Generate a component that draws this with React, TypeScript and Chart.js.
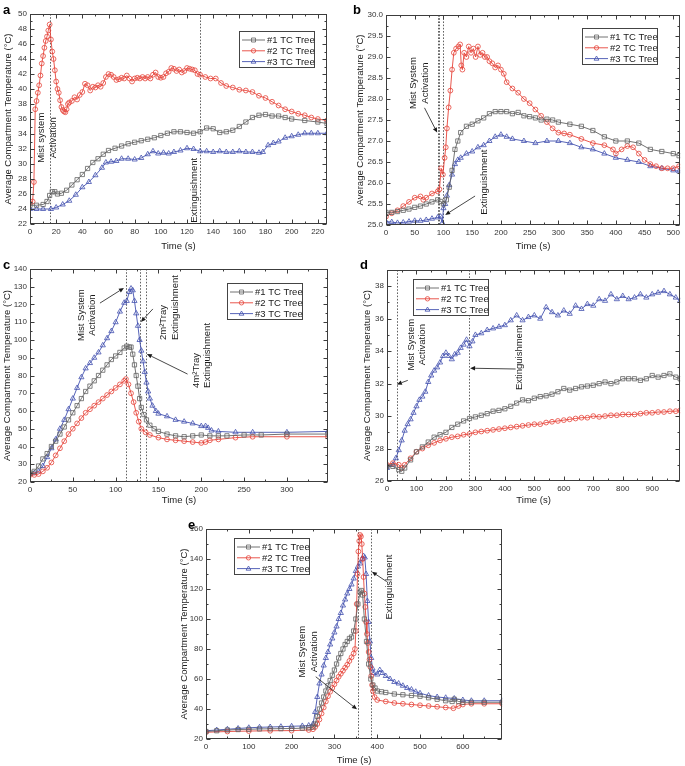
import React, { useEffect, useRef } from "react";
import { Chart, registerables } from "chart.js";

Chart.register(...registerables);

const FONT = "'Liberation Sans', Arial, Helvetica, sans-serif";
const SERIES_NAMES = ["#1 TC Tree", "#2 TC Tree", "#3 TC Tree"];
const SERIES_COLORS = ["rgb(98,98,98)", "rgb(230,68,58)", "rgb(68,82,176)"];
const SERIES_MARKERS = ["rect", "circle", "triangle"];
const SERIES_RADII = [3, 2.4, 3];
const Y_TITLE = "Average Compartment Temperature (°C)";
const X_TITLE = "Time (s)";

// ---------- Panel a ----------
const A1_T = [0,5,10,13,15,17,19,21,24,28,32,36,40,44,48,52,56,60,65,70,75,80,85,90,95,100,105,110,115,120,125,130,135,140,145,150,155,160,165,170,175,180,185,190,195,200,210,220,227];
const A1_V = [24.5,24.5,24.6,25.0,25.8,26.3,26.3,26.0,26.1,26.5,27.2,27.9,28.6,29.4,30.2,30.7,31.3,31.8,32.1,32.4,32.7,32.9,33.1,33.3,33.5,33.8,34.1,34.3,34.3,34.2,34.1,34.3,34.8,34.7,34.2,34.3,34.5,35.0,35.6,36.2,36.5,36.6,36.4,36.4,36.2,36.0,35.8,35.6,35.4];
const A2_T = [0,2,3,4,5,6,7,8,9,10,11,12,13,14,15,16,17,18,19,20,21,22,23,24,25,26,27,28,29,30,32,34,36,38,40,42,44,46,48,50,52,54,56,58,60,62,64,66,68,70,72,74,76,78,80,82,84,86,88,90,92,94,96,98,100,102,104,106,108,110,112,114,116,118,120,122,124,126,128,130,134,138,142,146,150,155,160,165,170,175,180,185,190,195,200,205,210,215,220,227];
const A2_V = [24.8,25.0,27.6,37.3,38.4,39.5,40.5,41.8,43.4,44.4,45.5,46.4,47.0,47.8,48.6,46.6,45.0,44.0,42.5,41.0,40.0,39.5,38.5,37.6,37.2,37.0,36.9,37.3,38.0,38.2,38.4,38.9,38.6,39.2,39.6,40.7,40.5,39.8,40.3,40.2,40.5,40.3,40.8,41.6,42.0,41.9,41.6,41.2,41.3,41.5,41.4,41.8,41.4,41.0,41.4,41.5,41.4,41.6,41.4,41.6,41.4,41.9,42.2,41.6,41.5,41.6,42.1,42.3,42.8,42.7,42.4,42.6,42.2,42.4,42.8,42.7,42.6,42.5,42.0,41.9,41.6,41.4,41.4,40.8,40.4,40.2,39.9,39.8,39.6,39.1,38.8,38.3,37.8,37.3,37.0,36.7,36.5,36.2,36.0,35.8];
const A3_T = [0,5,10,16,20,25,30,35,40,45,50,55,58,62,66,70,75,80,85,90,94,98,102,106,110,115,120,125,130,135,140,145,150,155,160,165,170,175,178,182,186,190,195,200,205,210,215,220,227];
const A3_V = [24.0,24.0,24.0,24.0,24.2,24.6,25.1,25.9,26.9,27.6,28.5,29.5,30.2,30.3,30.4,30.7,30.7,30.6,30.8,31.3,31.7,31.4,31.5,31.4,31.6,31.8,32.1,32.0,31.7,31.7,31.6,31.7,31.6,31.6,31.7,31.6,31.6,31.5,31.6,32.5,32.8,33.0,33.5,33.7,33.9,34.1,34.1,34.1,34.1];

// ---------- Panel b ----------
const B1_T = [0,10,20,30,40,50,60,70,80,90,95,100,105,110,115,120,125,130,140,150,160,170,180,190,200,210,220,230,240,250,260,270,280,290,300,320,340,360,380,400,420,440,460,480,500,510];
const B1_V = [25.3,25.3,25.32,25.35,25.38,25.42,25.45,25.5,25.55,25.6,25.56,25.5,25.6,25.9,26.3,26.8,27.0,27.2,27.35,27.4,27.48,27.55,27.65,27.7,27.7,27.7,27.65,27.68,27.6,27.58,27.55,27.5,27.52,27.5,27.45,27.4,27.35,27.25,27.1,27.0,27.0,26.95,26.8,26.75,26.7,26.65];
const B2_T = [0,10,20,30,40,50,60,65,70,80,90,93,96,99,102,104,106,109,112,115,118,122,126,129,131,133,136,140,144,148,152,156,160,164,168,172,176,180,185,190,195,200,205,210,220,230,240,250,260,270,280,290,300,310,320,340,360,380,395,400,410,420,430,440,450,460,470,480,490,500,510];
const B2_V = [25.2,25.28,25.35,25.45,25.55,25.65,25.68,25.6,25.65,25.75,25.8,25.85,26.35,26.2,26.6,26.85,27.3,27.8,28.2,28.7,29.1,29.2,29.25,29.3,28.8,28.7,29.1,29.0,29.25,29.1,29.2,29.0,29.25,29.05,29.1,29.0,29.0,28.9,28.85,28.75,28.8,28.7,28.6,28.4,28.25,28.15,28.0,27.9,27.75,27.6,27.45,27.3,27.2,27.18,27.15,27.05,26.95,26.9,26.8,26.7,26.8,26.88,26.85,26.7,26.55,26.45,26.4,26.35,26.35,26.35,26.4];
const B3_T = [0,10,20,30,40,50,60,70,80,90,95,98,100,103,106,110,115,120,125,130,140,150,160,170,180,190,200,210,220,240,260,280,300,320,340,360,380,400,420,440,460,480,500,510];
const B3_V = [25.08,25.07,25.05,25.06,25.08,25.1,25.1,25.12,25.15,25.18,25.2,25.05,25.4,25.5,25.7,25.95,26.2,26.45,26.55,26.6,26.7,26.75,26.85,26.9,27.0,27.1,27.15,27.1,27.05,27.0,26.95,27.0,27.0,26.95,26.85,26.8,26.7,26.6,26.55,26.5,26.4,26.35,26.3,26.28];

// ---------- Panel c ----------
const C1_T = [0,5,10,15,20,25,30,35,40,45,50,55,60,65,70,75,80,85,90,95,100,105,110,113,116,118,120,122,124,126,128,130,133,136,140,145,150,160,170,180,190,200,210,220,230,250,270,300,348];
const C1_V = [25,26,29,33,36,40,43,47,51,55,59,63,67,71,74,77,80,83,86,89,91,93,95.5,96.5,96,96,92,86,80,74,67,62,58,55,52,50,48.5,47,46,45.5,46,46.5,46,46,46,46.5,46.5,47,47];
const C2_T = [0,5,10,15,20,25,30,35,40,45,50,55,60,65,70,75,80,85,90,95,100,105,110,112,115,118,121,124,127,130,135,140,150,160,170,180,190,200,205,210,220,240,260,300,348];
const C2_V = [24,24,24.5,26,28,31,35,39,43,47,50,53,56,59,61,63,65,67,69,71,73,75,77,78,75,70,65,59,54,50,48,46.5,45,44,43.5,43,42.5,42,42.5,43.5,44,45,45.5,45.5,45.5];
const C3_T = [0,5,10,15,20,25,30,35,40,45,50,55,60,65,70,75,80,85,90,95,100,105,110,113,116,118,120,122,124,126,128,130,132,134,136,138,140,143,147,150,160,170,180,190,200,205,208,212,220,240,260,300,348];
const C3_V = [24.5,25,26,29,34,39,44,50,55,61,67,73,79,84,87,90,93,97,101,105,110,116,121,122,127,129,128,122,115,108,100,94,88,82,76,71,67,63,60,58.5,57,55,54,53,51.5,51.5,50.5,49,48.5,48,48,48,48.5];

// ---------- Panel d ----------
const D1_T = [0,20,40,50,60,80,100,120,140,160,180,200,220,240,260,280,300,320,340,360,380,400,420,440,460,480,500,520,540,560,580,600,620,640,660,680,700,720,740,760,780,800,820,840,860,880,900,920,940,960,980,995];
const D1_V = [26.9,26.9,26.7,26.6,26.8,27.3,27.8,28.1,28.4,28.7,28.85,29.0,29.3,29.5,29.7,29.85,29.95,30.05,30.15,30.3,30.35,30.45,30.6,30.8,31.0,30.95,31.1,31.2,31.25,31.35,31.5,31.7,31.6,31.7,31.8,31.85,31.9,32.0,32.1,32.0,32.1,32.3,32.3,32.3,32.2,32.3,32.5,32.4,32.5,32.6,32.4,32.3];
const D2_T = [0,20,40,50,60,80,100,120,140,160,180,200,220,240,260,280,300,320,340,360,380,400,420,440,460,480,500,520,540,560,580,600,620,640,660,680,700,720,740,760,780,800,820,840,860,880,900,920,940,960,980,995];
const D2_V = [27.0,27.1,27.0,26.8,27.0,27.4,27.8,28.0,28.2,28.35,28.5,28.6,28.7,28.75,28.85,28.9,29.0,29.05,29.1,29.15,29.2,29.25,29.3,29.35,29.4,29.45,29.5,29.5,29.6,29.65,29.7,29.75,29.8,29.85,29.9,29.9,30.0,29.95,30.0,30.05,30.05,30.1,30.1,30.1,30.15,30.2,30.2,30.25,30.25,30.3,30.3,30.35];
const D3_T = [0,20,30,40,50,60,70,80,90,100,110,120,130,140,150,160,170,180,190,200,210,220,230,240,250,260,270,280,290,300,320,340,360,380,400,420,440,460,480,500,520,540,560,580,600,620,640,660,680,700,720,740,760,780,800,820,840,860,880,900,920,940,960,980,995];
const D3_V = [26.8,27.0,27.4,27.9,28.5,29.1,29.5,29.8,30.2,30.6,31.0,31.2,31.5,32.1,32.5,32.8,33.0,33.3,33.7,33.9,33.7,33.5,33.8,33.9,34.2,34.4,34.7,34.3,34.6,35.0,35.1,35.3,35.4,35.5,35.6,35.9,36.2,35.9,36.1,36.2,36.0,36.7,36.4,36.2,36.5,36.3,36.8,36.6,36.9,36.8,37.2,37.1,37.5,37.2,37.4,37.2,37.3,37.5,37.3,37.5,37.6,37.7,37.5,37.3,37.1];

// ---------- Panel e ----------
const E1_T = [0,25,50,75,100,125,150,175,200,225,240,250,255,260,265,270,275,280,285,290,295,300,305,310,315,320,325,330,335,340,345,350,355,360,363,366,370,375,380,385,390,395,400,410,420,440,460,480,500,520,540,560,575,580,590,600,620,650,692];
const E1_V = [25,25.5,26,26.3,26.5,26.7,26.8,26.9,27,27.2,27.5,28,30,35,40,44,48,52,55.5,59,62.5,66,70,74,77,80,83,85,87,88,92,100,110,118,119,116,100,85,70,60,56,54,52,51.5,51,50,49.5,49,48.5,47.5,46.5,45.5,45,46.5,45,44.5,44.5,44.5,44.5];
const E2_T = [0,50,100,150,200,240,250,255,260,265,270,275,280,285,290,295,300,305,310,315,320,325,330,335,340,345,348,350,352,354,356,358,360,362,364,366,368,370,372,374,376,378,380,382,384,386,388,390,394,400,420,440,460,480,500,520,540,560,578,590,600,620,650,692];
const E2_V = [24.5,25,25.3,25.5,25.6,26,26.5,28,30,33,37,41,45,48.5,51.5,54,56.5,59,61.5,63.5,65.5,67.5,69.5,72,74.5,77,80,92,110,130,145,152,156,155,150,140,128,117,108,98,90,84,78,73,68,62,56,52,48,46,45,44,43.5,43,42.5,42,41.5,41,40.5,42,43,43.5,43.5,43.5];
const E3_T = [0,25,50,75,100,125,150,175,200,225,240,250,255,260,265,270,275,280,285,290,295,300,305,310,315,320,325,330,335,340,345,350,355,360,365,368,371,374,377,380,383,386,389,392,400,406,412,420,430,440,450,460,470,480,490,500,520,540,560,580,600,620,650,692];
const E3_V = [25.5,26,26.5,27,27.5,27.8,28,28.2,28.5,28.7,29,30,38,48,57,63,69,74,78,83,87,91,95,100,104,109,113,117,120,123,127,132,135,137,140,142,141,130,112,98,85,74,67,64,63,66,64,62,60,58,57,55.5,54,53,51.5,50.5,49,48,47.5,47,46,45.5,45.5,45.5];

type Series = { t: number[]; v: number[] };
type Note = { x: number; y: number; lines: string[]; align: "center" | "start" };
type Arrow = { x1: number; y1: number; x2: number; y2: number };
type Panel = {
  letter: string;
  letterPos: { left: number; top: number };
  canvas: { left: number; top: number; width: number; height: number };
  padTop: number;
  padRight: number;
  yAxisW: number;
  xAxisH: number;
  yTitlePad: number;
  xTitlePad: number;
  xMin: number; xMax: number; xStep: number; xMinor: number;
  yMin: number; yMax: number; yStep: number; yMinor: number; yDecimals: number;
  series: Series[];
  vlines: number[];
  notes: Note[];
  arrows: Arrow[];
  legend: { dx: number; dy: number };
};

const PANELS: Panel[] = [
  {
    letter: "a", letterPos: { left: 3, top: 3 },
    canvas: { left: 0, top: 0, width: 335, height: 252 },
    padTop: 14, padRight: 8, yAxisW: 30, xAxisH: 28, yTitlePad: 2.3, xTitlePad: 0.3,
    xMin: 0, xMax: 227, xStep: 20, xMinor: 10,
    yMin: 22, yMax: 50, yStep: 2, yMinor: 1, yDecimals: 0,
    series: [{ t: A1_T, v: A1_V }, { t: A2_T, v: A2_V }, { t: A3_T, v: A3_V }],
    vlines: [15, 130],
    notes: [
      { x: 13.4, y: 33.5, lines: ["Mist system", "Activation"], align: "center" },
      { x: 126, y: 26.5, lines: ["Extinguishment"], align: "center" },
    ],
    arrows: [],
    legend: { dx: 209, dy: 17 },
  },
  {
    letter: "b", letterPos: { left: 353, top: 3 },
    canvas: { left: 350, top: 0, width: 335, height: 252 },
    padTop: 15, padRight: 1, yAxisW: 36, xAxisH: 27, yTitlePad: 4.3, xTitlePad: 0,
    xMin: 0, xMax: 512, xStep: 50, xMinor: 25,
    yMin: 25, yMax: 30, yStep: 0.5, yMinor: 0.25, yDecimals: 1,
    series: [{ t: B1_T, v: B1_V }, { t: B2_T, v: B2_V }, { t: B3_T, v: B3_V }],
    vlines: [90.5, 93, 100],
    notes: [
      { x: 58, y: 28.38, lines: ["Mist System", "Activation"], align: "center" },
      { x: 172, y: 26.02, lines: ["Extinguishment"], align: "center" },
    ],
    arrows: [
      { x1: 67, y1: 27.79, x2: 89, y2: 27.2 },
      { x1: 155, y1: 25.69, x2: 103, y2: 25.24 },
    ],
    legend: { dx: 196, dy: 13 },
  },
  {
    letter: "c", letterPos: { left: 3, top: 258 },
    canvas: { left: 0, top: 252, width: 335, height: 254 },
    padTop: 17, padRight: 7, yAxisW: 30, xAxisH: 24, yTitlePad: 1.8, xTitlePad: 0.3,
    xMin: 0, xMax: 348, xStep: 50, xMinor: 25,
    yMin: 20, yMax: 140, yStep: 10, yMinor: 5, yDecimals: 0,
    series: [{ t: C1_T, v: C1_V }, { t: C2_T, v: C2_V }, { t: C3_T, v: C3_V }],
    vlines: [112, 129, 135],
    notes: [
      { x: 66.5, y: 114, lines: ["Mist System", "Activation"], align: "center" },
      { x: 163, y: 100, lines: ["2m²Tray", "Extinguishment"], align: "start" },
      { x: 201, y: 73, lines: ["4m²Tray", "Extinguishment"], align: "start" },
    ],
    arrows: [
      { x1: 81.7, y1: 120.8, x2: 109.7, y2: 129.3 },
      { x1: 143.5, y1: 117.5, x2: 129.5, y2: 110.2 },
      { x1: 184, y1: 80.8, x2: 136.5, y2: 92.1 },
    ],
    legend: { dx: 196.7, dy: 14.3 },
  },
  {
    letter: "d", letterPos: { left: 360, top: 258 },
    canvas: { left: 357, top: 252, width: 328, height: 254 },
    padTop: 18, padRight: 0, yAxisW: 30, xAxisH: 25, yTitlePad: 4.3, xTitlePad: 0.3,
    xMin: 0, xMax: 995, xStep: 100, xMinor: 50,
    yMin: 26, yMax: 39, yStep: 2, yMinor: 1, yDecimals: 0,
    series: [{ t: D1_T, v: D1_V }, { t: D2_T, v: D2_V }, { t: D3_T, v: D3_V }],
    vlines: [33.5, 279.5],
    notes: [
      { x: 102, y: 34.4, lines: ["Mist System", "Activation"], align: "center" },
      { x: 450, y: 33.6, lines: ["Extinguishment"], align: "center" },
    ],
    arrows: [
      { x1: 70.5, y1: 32.2, x2: 33.6, y2: 31.95 },
      { x1: 436.5, y1: 32.9, x2: 282, y2: 32.95 },
    ],
    legend: { dx: 25.7, dy: 9.3 },
  },
  {
    letter: "e", letterPos: { left: 188, top: 518 },
    canvas: { left: 174, top: 510, width: 333, height: 256 },
    padTop: 19, padRight: 2, yAxisW: 32, xAxisH: 27, yTitlePad: 4.3, xTitlePad: 0.3,
    xMin: 0, xMax: 692, xStep: 100, xMinor: 50,
    yMin: 20, yMax: 160, yStep: 20, yMinor: 10, yDecimals: 0,
    series: [{ t: E1_T, v: E1_V }, { t: E2_T, v: E2_V }, { t: E3_T, v: E3_V }],
    vlines: [354, 385],
    notes: [
      { x: 238.6, y: 78.2, lines: ["Mist System", "Activation"], align: "center" },
      { x: 428.5, y: 121.3, lines: ["Extinguishment"], align: "center" },
    ],
    arrows: [
      { x1: 256.4, y1: 61.5, x2: 352.8, y2: 39.8 },
      { x1: 422.3, y1: 124.9, x2: 387.6, y2: 131.5 },
    ],
    legend: { dx: 28.3, dy: 9.3 },
  },
];

function stepValues(min: number, max: number, step: number): number[] {
  const out: number[] = [];
  const n = Math.floor((max - min) / step + 1e-9);
  for (let i = 0; i <= n; i++) out.push(Math.round((min + i * step) * 1000) / 1000);
  return out;
}

function drawMarker(ctx: CanvasRenderingContext2D, style: string, x: number, y: number, color: string) {
  ctx.save();
  ctx.strokeStyle = color;
  ctx.lineWidth = 0.8;
  ctx.beginPath();
  if (style === "rect") {
    ctx.rect(x - 2, y - 2, 4, 4);
  } else if (style === "circle") {
    ctx.arc(x, y, 2.2, 0, Math.PI * 2);
  } else {
    ctx.moveTo(x, y - 2.6);
    ctx.lineTo(x + 2.4, y + 1.6);
    ctx.lineTo(x - 2.4, y + 1.6);
    ctx.closePath();
  }
  ctx.stroke();
  ctx.restore();
}

function makePlugin(p: Panel) {
  return {
    id: "deco_" + p.letter,
    beforeDatasetsDraw(chart: any) {
      const { ctx, chartArea: ca } = chart;
      const xs = chart.scales.x;
      ctx.save();
      ctx.strokeStyle = "#505050";
      ctx.lineWidth = 0.9;
      ctx.setLineDash([1.6, 1.6]);
      for (const v of p.vlines) {
        const px = Math.round(xs.getPixelForValue(v)) + 0.5;
        ctx.beginPath();
        ctx.moveTo(px, ca.top);
        ctx.lineTo(px, ca.bottom);
        ctx.stroke();
      }
      ctx.restore();
    },
    afterDraw(chart: any) {
      const { ctx, chartArea: ca } = chart;
      const xs = chart.scales.x;
      const ys = chart.scales.y;
      const l = Math.round(ca.left) + 0.5;
      const t = Math.round(ca.top) + 0.5;
      const r = Math.round(ca.right) - 0.5;
      const b = Math.round(ca.bottom) - 0.5;
      ctx.save();
      ctx.strokeStyle = "#3c3c3c";
      ctx.lineWidth = 1;
      ctx.setLineDash([]);
      ctx.strokeRect(l, t, r - l, b - t);
      for (const v of stepValues(p.xMin, p.xMax, p.xMinor)) {
        const q = v / p.xStep;
        const len = Math.abs(q - Math.round(q)) < 1e-6 ? 4 : 2;
        const px = Math.round(xs.getPixelForValue(v)) + 0.5;
        ctx.beginPath();
        ctx.moveTo(px, b); ctx.lineTo(px, b - len);
        ctx.moveTo(px, t); ctx.lineTo(px, t + len);
        ctx.stroke();
      }
      for (const v of stepValues(p.yMin, p.yMax, p.yMinor)) {
        const q = (v - p.yMin) / p.yStep;
        const len = Math.abs(q - Math.round(q)) < 1e-6 ? 4 : 2;
        const py = Math.round(ys.getPixelForValue(v)) + 0.5;
        ctx.beginPath();
        ctx.moveTo(l, py); ctx.lineTo(l + len, py);
        ctx.moveTo(r, py); ctx.lineTo(r - len, py);
        ctx.stroke();
      }
      ctx.fillStyle = "#1a1a1a";
      ctx.font = `9.5px ${FONT}`;
      ctx.textBaseline = "middle";
      const lh = 11.5;
      for (const n of p.notes) {
        const px = xs.getPixelForValue(n.x);
        const py = ys.getPixelForValue(n.y);
        ctx.save();
        ctx.translate(px, py);
        ctx.rotate(-Math.PI / 2);
        ctx.textAlign = n.align === "start" ? "left" : "center";
        n.lines.forEach((s, i) => {
          const off = (i - (n.lines.length - 1) / 2) * lh;
          ctx.fillText(s, 0, off);
        });
        ctx.restore();
      }
      ctx.strokeStyle = "#1a1a1a";
      ctx.fillStyle = "#1a1a1a";
      ctx.lineWidth = 0.8;
      for (const a of p.arrows) {
        const x1 = xs.getPixelForValue(a.x1), y1 = ys.getPixelForValue(a.y1);
        const x2 = xs.getPixelForValue(a.x2), y2 = ys.getPixelForValue(a.y2);
        const ang = Math.atan2(y2 - y1, x2 - x1);
        const hl = 5, hw = 2.2;
        const bx = x2 - hl * Math.cos(ang), by = y2 - hl * Math.sin(ang);
        ctx.beginPath();
        ctx.moveTo(x1, y1);
        ctx.lineTo(bx, by);
        ctx.stroke();
        ctx.beginPath();
        ctx.moveTo(x2, y2);
        ctx.lineTo(bx + hw * Math.sin(ang), by - hw * Math.cos(ang));
        ctx.lineTo(bx - hw * Math.sin(ang), by + hw * Math.cos(ang));
        ctx.closePath();
        ctx.fill();
      }
      const lx = Math.round(ca.left + p.legend.dx) + 0.5;
      const ly = Math.round(ca.top + p.legend.dy) + 0.5;
      const lw = 75, lhgt = 36;
      ctx.fillStyle = "#ffffff";
      ctx.fillRect(lx, ly, lw, lhgt);
      ctx.strokeStyle = "#444";
      ctx.lineWidth = 1;
      ctx.strokeRect(lx, ly, lw, lhgt);
      ctx.font = `9.5px ${FONT}`;
      ctx.textAlign = "left";
      ctx.textBaseline = "middle";
      for (let i = 0; i < 3; i++) {
        const yy = ly + 8.5 + i * 10.8;
        ctx.strokeStyle = SERIES_COLORS[i];
        ctx.lineWidth = 0.9;
        ctx.beginPath();
        ctx.moveTo(lx + 2.5, yy);
        ctx.lineTo(lx + 25.5, yy);
        ctx.stroke();
        drawMarker(ctx, SERIES_MARKERS[i], lx + 14, yy, SERIES_COLORS[i]);
        ctx.fillStyle = "#1a1a1a";
        ctx.fillText(SERIES_NAMES[i], lx + 27.5, yy + 0.5);
      }
      ctx.restore();
    },
  };
}

function buildConfig(p: Panel): any {
  const datasets = p.series.map((s, i) => ({
    label: SERIES_NAMES[i],
    data: s.t.map((t, k) => ({ x: t, y: s.v[k] })),
    borderColor: SERIES_COLORS[i],
    borderWidth: 0.9,
    pointStyle: SERIES_MARKERS[i],
    pointRadius: SERIES_RADII[i],
    pointBorderWidth: 0.8,
    pointBorderColor: SERIES_COLORS[i],
    pointBackgroundColor: "rgba(0,0,0,0)",
    tension: 0,
    fill: false,
  }));
  const tickFont = { family: FONT, size: 8 };
  const titleFont = { family: FONT, size: 9.5 };
  const xTicks = stepValues(p.xMin, p.xMax, p.xStep);
  const yTicks = stepValues(p.yMin, p.yMax, p.yStep);
  return {
    type: "line",
    data: { datasets },
    options: {
      animation: false,
      responsive: false,
      devicePixelRatio: 1,
      layout: { padding: { top: p.padTop, right: p.padRight, left: 0, bottom: 0 } },
      plugins: { legend: { display: false }, tooltip: { enabled: false } },
      scales: {
        x: {
          type: "linear",
          min: p.xMin,
          max: p.xMax,
          ticks: {
            autoSkip: false,
            maxRotation: 0,
            padding: 3,
            color: "#333",
            font: tickFont,
            callback: (v: any) => String(v),
          },
          afterBuildTicks: (s: any) => {
            s.ticks = xTicks.map((v) => ({ value: v }));
          },
          grid: { display: false, drawTicks: false },
          border: { display: false },
          title: { display: true, text: X_TITLE, color: "#222", font: titleFont, padding: { top: 0, bottom: p.xTitlePad } },
          afterFit: (s: any) => {
            s.height = p.xAxisH;
            s.paddingLeft = 0;
            s.paddingRight = 0;
          },
        },
        y: {
          type: "linear",
          min: p.yMin,
          max: p.yMax,
          ticks: {
            autoSkip: false,
            padding: 3,
            color: "#333",
            font: tickFont,
            callback: (v: any) => Number(v).toFixed(p.yDecimals),
          },
          afterBuildTicks: (s: any) => {
            s.ticks = yTicks.map((v) => ({ value: v }));
          },
          grid: { display: false, drawTicks: false },
          border: { display: false },
          title: { display: true, text: Y_TITLE, color: "#222", font: titleFont, padding: { top: p.yTitlePad, bottom: 0 } },
          afterFit: (s: any) => {
            s.width = p.yAxisW;
            s.paddingTop = 0;
            s.paddingBottom = 0;
          },
        },
      },
    },
    plugins: [makePlugin(p)],
  };
}

function PanelChart({ p }: { p: Panel }) {
  const ref = useRef<HTMLCanvasElement | null>(null);
  useEffect(() => {
    if (!ref.current) return;
    const chart = new Chart(ref.current, buildConfig(p));
    return () => chart.destroy();
  }, [p]);
  return (
    <canvas
      ref={ref}
      width={p.canvas.width}
      height={p.canvas.height}
      style={{
        position: "absolute",
        left: p.canvas.left,
        top: p.canvas.top,
        width: p.canvas.width,
        height: p.canvas.height,
      }}
    />
  );
}

export default function App() {
  return (
    <div
      style={{
        position: "absolute",
        left: 0,
        top: 0,
        width: 685,
        height: 766,
        background: "#fff",
        overflow: "hidden",
      }}
    >
      {PANELS.map((p) => (
        <PanelChart key={p.letter} p={p} />
      ))}
      {PANELS.map((p) => (
        <div
          key={"L" + p.letter}
          style={{
            position: "absolute",
            left: p.letterPos.left,
            top: p.letterPos.top,
            fontFamily: FONT,
            fontWeight: "bold",
            fontSize: 13,
            lineHeight: "13px",
            color: "#000",
          }}
        >
          {p.letter}
        </div>
      ))}
    </div>
  );
}
